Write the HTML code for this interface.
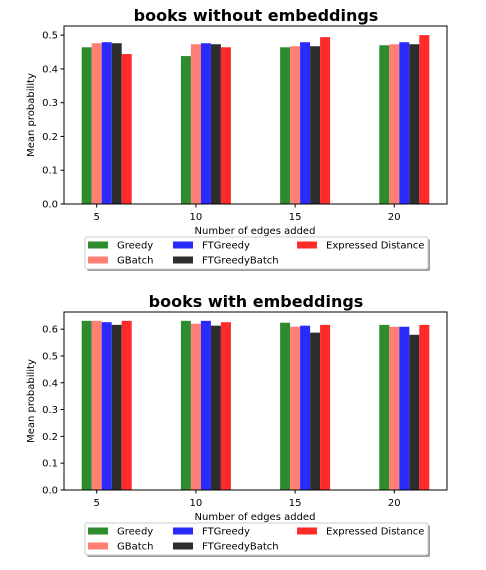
<!DOCTYPE html>
<html><head><meta charset="utf-8"><style>
body{margin:0;background:#fff}
svg text{font-family:"DejaVu Sans","Liberation Sans",sans-serif;fill:#000}
</style></head><body>
<svg id="s" width="486" height="565" xmlns="http://www.w3.org/2000/svg"></svg>
<script>
const categories=[5,10,15,20];
const seriesNames=["Greedy","GBatch","FTGreedy","FTGreedyBatch","Expressed Distance"];
const colors=["#2e8b2e","#ff7f74","#2a2aff","#2d2d2d","#ff2a2a"];
const top_greedy=[0.464,0.438,0.464,0.470];
const top_gbatch=[0.476,0.473,0.467,0.473];
const top_ftgreedy=[0.479,0.476,0.479,0.479];
const top_ftbatch=[0.476,0.473,0.467,0.473];
const top_expr=[0.444,0.464,0.494,0.500];
const bot_greedy=[0.631,0.631,0.624,0.616];
const bot_gbatch=[0.631,0.620,0.609,0.609];
const bot_ftgreedy=[0.626,0.631,0.613,0.609];
const bot_ftbatch=[0.616,0.613,0.587,0.579];
const bot_expr=[0.631,0.626,0.616,0.616];
const topTicks=[0,0.1,0.2,0.3,0.4,0.5];
const botTicks=[0,0.1,0.2,0.3,0.4,0.5,0.6];
const NS="http://www.w3.org/2000/svg";
const svg=document.getElementById('s');
function mk(t,a,txt){const e=document.createElementNS(NS,t);for(const k in a)e.setAttribute(k,a[k]);if(txt!==undefined)e.textContent=txt;svg.appendChild(e);return e;}
function chart(o){
  const L=64,R=447,T=o.top,B=o.bottom;
  const x=v=>96.7+(v-5)*19.84;
  const y=v=>B-(v/o.ymax)*(B-T);
  let t=mk('text',{x:256,y:T-5,'font-size':16,'font-weight':'bold','text-anchor':'middle'},o.title);
  
  o.series.forEach((arr,si)=>{
    arr.forEach((v,ci)=>{
      const cx=x(categories[ci])+(si-1)*10;
      const r=mk('rect',{x:cx-5,y:y(v),width:10,height:B-y(v),fill:colors[si]});
      
      
    });
  });
  let ax=mk('rect',{x:L,y:T,width:R-L,height:B-T,fill:'none',stroke:'#000','stroke-width':1});
  
  o.ticks.forEach(v=>{
    mk('line',{x1:L-3.5,x2:L,y1:y(v),y2:y(v),stroke:'#000'});
    let tl=mk('text',{x:L-6,y:y(v)+3.5,'font-size':10,'text-anchor':'end'},v.toFixed(1));
    
  });
  categories.forEach(c=>{
    mk('line',{x1:x(c),x2:x(c),y1:B,y2:B+3.5,stroke:'#000'});
    let tl=mk('text',{x:x(c),y:B+16,'font-size':10,'text-anchor':'middle'},c);
    
  });
  let xl=mk('text',{x:255,y:B+30,'font-size':10,'text-anchor':'middle'},'Number of edges added');
  
  let yl=mk('text',{x:0,y:0,'font-size':10,'text-anchor':'middle',transform:`translate(34,${(T+B)/2}) rotate(-90)`},'Mean probability');
  
  const ly=o.legendY;
  mk('rect',{x:87,y:ly+2,width:343,height:32,fill:'#999',rx:2});
  let lb=mk('rect',{x:85,y:ly,width:343,height:32,fill:'#fff',stroke:'#ccc',rx:2});
  
  const pos=[[88,0],[88,1],[173,0],[173,1],[297,0]];
  pos.forEach((p,i)=>{
    const cy=ly+8+p[1]*15;
    mk('rect',{x:p[0],y:cy-3.5,width:20,height:7,fill:colors[i]});
    let le=mk('text',{x:p[0]+29,y:cy+3.5,'font-size':10},seriesNames[i]);
    
  });
}
chart({id:'top',title:'books without embeddings',top:26,bottom:204,ymax:0.527,ticks:topTicks,
  series:[top_greedy,top_gbatch,top_ftgreedy,top_ftbatch,top_expr],legendY:237});
chart({id:'bottom',title:'books with embeddings',top:312,bottom:490,ymax:0.664,ticks:botTicks,
  series:[bot_greedy,bot_gbatch,bot_ftgreedy,bot_ftbatch,bot_expr],legendY:523});
</script>
</body></html>
